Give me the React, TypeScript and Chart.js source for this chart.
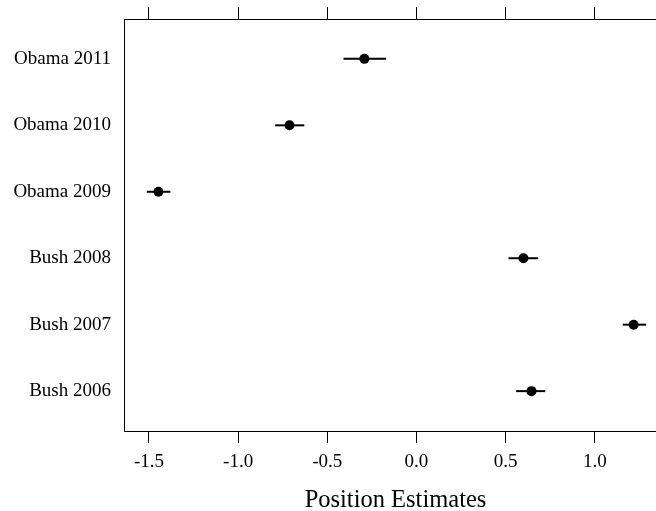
import React, { useEffect, useRef } from "react";
import { Chart, registerables } from "chart.js";

Chart.register(...registerables);

const categories = ["Bush 2006", "Bush 2007", "Bush 2008", "Obama 2009", "Obama 2010", "Obama 2011"];
const estimates = [0.645, 1.218, 0.6, -1.447, -0.712, -0.292];
const lowerBounds = [0.559, 1.157, 0.516, -1.512, -0.792, -0.409];
const upperBounds = [0.722, 1.288, 0.683, -1.38, -0.629, -0.17];
const xTickValues = [-1.5, -1.0, -0.5, 0.0, 0.5, 1.0];
const xAxisTitle = "Position Estimates";

const FONT = "'Liberation Serif', 'Times New Roman', serif";

const errorBarPlugin = {
  id: "errorBars",
  beforeDatasetsDraw(chart: any) {
    const { ctx } = chart;
    const xs = chart.scales.x;
    const ys = chart.scales.y;
    ctx.save();
    ctx.strokeStyle = "#000";
    ctx.lineWidth = 2;
    for (let i = 0; i < categories.length; i++) {
      const y = ys.getPixelForValue(i + 1);
      ctx.beginPath();
      ctx.moveTo(xs.getPixelForValue(lowerBounds[i]), y);
      ctx.lineTo(xs.getPixelForValue(upperBounds[i]), y);
      ctx.stroke();
    }
    ctx.restore();
  },
};

export default function App() {
  const ref = useRef<HTMLCanvasElement | null>(null);
  useEffect(() => {
    if (!ref.current) return;
    document.body.style.overflow = "hidden";
    const chart = new Chart(ref.current, {
      type: "scatter",
      data: {
        datasets: [
          {
            data: estimates.map((v, i) => ({ x: v, y: i + 1 })),
            pointRadius: 5,
            pointHoverRadius: 5,
            backgroundColor: "#000",
            borderWidth: 0,
            showLine: false,
          },
        ],
      },
      options: {
        animation: false,
        responsive: false,
        devicePixelRatio: 1,
        layout: { padding: { left: 0, right: 13, top: 0, bottom: 0 } },
        plugins: { legend: { display: false }, tooltip: { enabled: false } },
        scales: {
          x: {
            type: "linear",
            position: "bottom",
            min: -1.64,
            max: 1.405,
            afterBuildTicks: (s: any) => {
              s.ticks = xTickValues.map((v) => ({ value: v }));
            },
            afterFit: (s: any) => {
              s.height = 80;
            },
            ticks: {
              color: "#000",
              font: { family: FONT, size: 19 },
              padding: 8,
              maxRotation: 0,
              autoSkip: false,
              callback: (v: any) => Number(v).toFixed(1),
            },
            grid: { drawOnChartArea: false, drawTicks: true, tickLength: 12, color: "#000" },
            border: { display: true, color: "#000", width: 1 },
            title: {
              display: true,
              text: xAxisTitle,
              color: "#000",
              font: { family: FONT, size: 24.5, lineHeight: 1 },
              padding: { top: 0, bottom: -2 },
            },
          },
          x2: {
            type: "linear",
            position: "top",
            min: -1.64,
            max: 1.405,
            afterBuildTicks: (s: any) => {
              s.ticks = xTickValues.map((v) => ({ value: v }));
            },
            afterFit: (s: any) => {
              s.height = 19;
            },
            ticks: { display: false },
            grid: { drawOnChartArea: false, drawTicks: true, tickLength: 12, color: "#000" },
            border: { display: true, color: "#000", width: 1 },
          },
          y: {
            type: "linear",
            position: "left",
            min: 0.4,
            max: 6.6,
            afterBuildTicks: (s: any) => {
              s.ticks = categories.map((_, i) => ({ value: i + 1 }));
            },
            afterFit: (s: any) => {
              s.width = 124;
            },
            ticks: {
              color: "#000",
              font: { family: FONT, size: 19 },
              padding: 0,
              autoSkip: false,
              callback: (v: any) => categories[Math.round(Number(v)) - 1],
            },
            grid: { drawOnChartArea: false, drawTicks: true, tickLength: 13, color: "rgba(0,0,0,0)" },
            border: { display: true, color: "#000", width: 1 },
          },
        },
      },
      plugins: [errorBarPlugin],
    } as any);
    return () => chart.destroy();
  }, []);
  return (
    <div
      style={{
        position: "fixed",
        left: 0,
        top: 0,
        width: 680,
        height: 511,
        overflow: "hidden",
        background: "#fff",
      }}
    >
      <canvas ref={ref} width={680} height={511} style={{ width: 680, height: 511, display: "block" }} />
    </div>
  );
}
